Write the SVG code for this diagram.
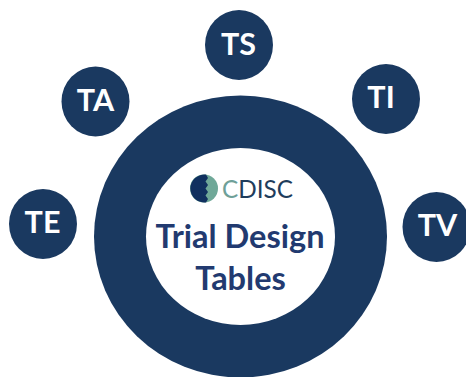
<svg xmlns="http://www.w3.org/2000/svg" width="466" height="377" viewBox="0 0 466 377">
<style>
.n{fill:#1a3960}
.t{font-family:"Lato","Open Sans",sans-serif;font-weight:700;font-size:30.500px;fill:#fff;text-anchor:middle}
.c{font-family:"Lato","Open Sans",sans-serif;font-weight:700;font-size:32.5px;fill:#223a70;text-anchor:middle}
.l{font-family:"Lato","Open Sans",sans-serif;font-size:25px}
</style>
<rect width="466" height="377" fill="#fff"/>
<g id="ring">
<ellipse class="n" cx="240.5" cy="236.5" rx="146.5" ry="141"/>
<ellipse cx="240.5" cy="236.5" rx="94.5" ry="88.5" fill="#fff"/>
</g>
<g id="logo">
<circle cx="204" cy="188.5" r="14" fill="#6fa898"/>
<path d="M206 174.600A14 14 0 1 0 206 202.400L208 199L205.500 195.500L208 192L205.500 188.500L208 185L205.500 181.500L208 178Z" fill="#10305f"/>
<text class="l" x="222" y="198" fill="#1f3d5c" textLength="71" lengthAdjust="spacingAndGlyphs"><tspan fill="#6fa098">C</tspan>DISC</text>
</g>
<g id="center-label">
<text class="c" x="240" y="248">Trial Design</text>
<text class="c" x="240.500" y="290">Tables</text>
</g>
<g id="TS"><ellipse class="n" cx="239" cy="45" rx="34" ry="35"/><text class="t" x="238.500" y="55">TS</text></g>
<g id="TA"><ellipse class="n" cx="95.500" cy="101.500" rx="34" ry="35"/><text class="t" x="95.500" y="111">TA</text></g>
<g id="TI"><ellipse class="n" cx="386" cy="99" rx="34" ry="35"/><text class="t" x="381" y="108">TI</text></g>
<g id="TE"><ellipse class="n" cx="43" cy="224" rx="34" ry="35"/><text class="t" x="42.500" y="233">TE</text></g>
<g id="TV"><ellipse class="n" cx="436.500" cy="227" rx="34" ry="35"/><text class="t" x="437.500" y="236">TV</text></g>
<g id="connectors"/>
</svg>
